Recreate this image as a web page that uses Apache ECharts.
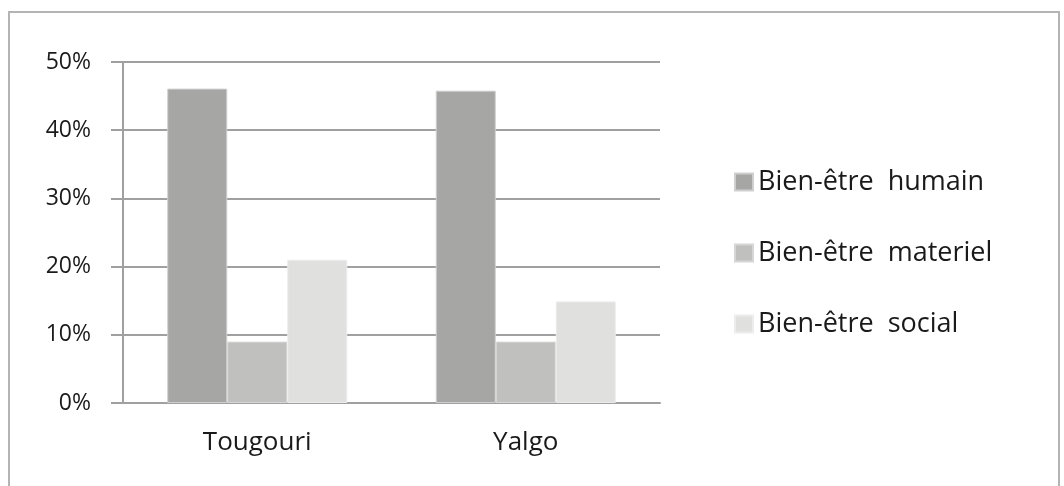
<!DOCTYPE html>
<html>
<head>
<meta charset="utf-8">
<script src="https://cdn.jsdelivr.net/npm/echarts@6/dist/echarts.min.js"></script>
<style>
    html, body { margin: 0; padding: 0; background: #fff; }
    #frame { position: absolute; left: 8px; top: 11px; width: 1052px; height: 500px; border: 2px solid #b4b4b4; box-sizing: border-box; }
    #chart { position: absolute; left: 0; top: 0; width: 1064px; height: 486px; }
</style>
</head>
<body>
<div id="frame"></div>
<div id="chart"></div>
<script>
// données
var villages = ['Tougouri', 'Yalgo'];
var humain = [46.1, 45.8];
var materiel = [9.0, 9.0];
var social = [21.0, 14.9];
var yTicks = [0, 10, 20, 30, 40, 50];

var chart = echarts.init(document.getElementById('chart'));

var option = {
    animation: false,
    textStyle: { fontFamily: 'Open Sans' },
    color: ['#a6a6a5', '#c0c0bf', '#e0e0df'],
    legend: {
        orient: 'vertical',
        left: 734,
        top: 167,
        padding: 0,
        itemWidth: 18,
        itemHeight: 17,
        itemGap: 41,
        icon: 'rect',
        textStyle: { fontFamily: 'Open Sans', fontSize: 27, lineHeight: 30, color: '#1a1a1a' },
        data: ['Bien-être  humain', 'Bien-être  materiel', 'Bien-être  social']
    },
    grid: {
        left: 123,
        right: 404,
        top: 62,
        bottom: 83
    },
    xAxis: {
        type: 'category',
        data: villages,
        axisLine: { lineStyle: { color: '#a0a0a0', width: 2 } },
        axisTick: { length: 6, lineStyle: { color: '#a0a0a0', width: 2 } },
        axisLabel: { fontSize: 26, color: '#1a1a1a', margin: 27 }
    },
    yAxis: {
        type: 'value',
        min: yTicks[0],
        max: yTicks[yTicks.length - 1],
        interval: 10,
        axisLine: { show: true, lineStyle: { color: '#a0a0a0', width: 2 } },
        axisTick: { show: true, length: 12, lineStyle: { color: '#a0a0a0', width: 2 } },
        splitLine: { lineStyle: { color: '#a0a0a0', width: 2 } },
        axisLabel: { fontSize: 23, color: '#1a1a1a', margin: 32, formatter: '{value}%' }
    },
    series: [
        {
            name: 'Bien-être  humain',
            type: 'bar',
            barWidth: 60,
            barGap: '0%',
            data: humain,
            itemStyle: { borderColor: '#cfcfcf', borderWidth: 1 }
        },
        {
            name: 'Bien-être  materiel',
            type: 'bar',
            barWidth: 60,
            barGap: '0%',
            data: materiel,
            itemStyle: { borderColor: '#d6d6d6', borderWidth: 1 }
        },
        {
            name: 'Bien-être  social',
            type: 'bar',
            barWidth: 60,
            barGap: '0%',
            data: social,
            itemStyle: { borderColor: '#ececec', borderWidth: 1 }
        }
    ]
};

chart.setOption(option);
</script>
</body>
</html>
